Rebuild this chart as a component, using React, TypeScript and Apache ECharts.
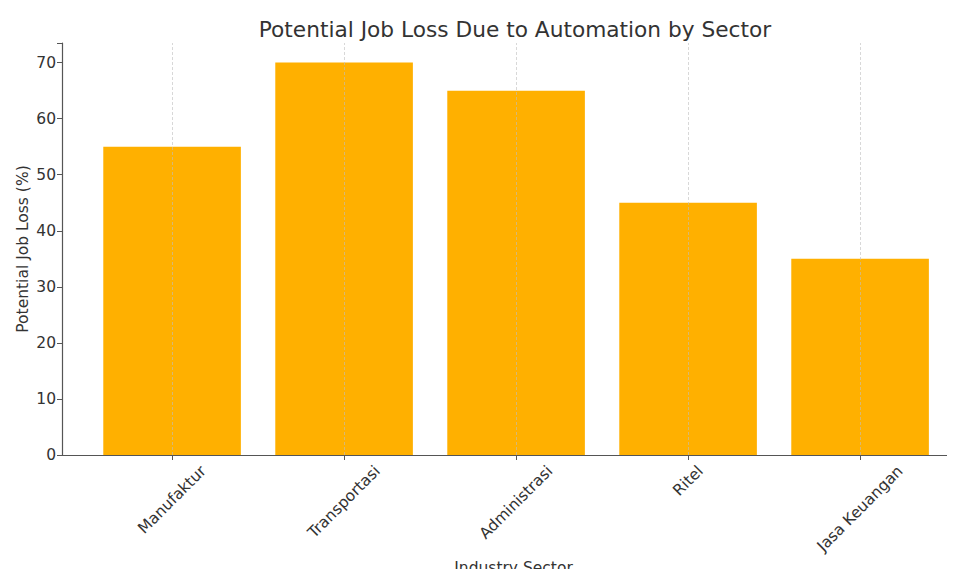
import React, { useEffect, useRef } from "react";
import * as echarts from "echarts";

const categories = ["Manufaktur", "Transportasi", "Administrasi", "Ritel", "Jasa Keuangan"];
const jobLoss = [55, 70, 65, 45, 35];
const yTicks = [0, 10, 20, 30, 40, 50, 60, 70];

const titleText = "Potential Job Loss Due to Automation by Sector";
const xName = "Industry Sector";
const yName = "Potential Job Loss (%)";

const FONT = '"DejaVu Sans", "Liberation Sans", sans-serif';
const TICK_FS = 15.5;

function measure(text: string, size: number): number {
  const c = document.createElement("canvas").getContext("2d");
  if (!c) return text.length * size * 0.6;
  c.font = `${size}px "DejaVu Sans"`;
  return c.measureText(text).width;
}

export default function App() {
  const ref = useRef<HTMLDivElement>(null);
  useEffect(() => {
    if (!ref.current) return;
    const chart = echarts.init(ref.current, undefined, { renderer: "svg" });
    const lineH = TICK_FS * 1.164;
    const rich: Record<string, any> = {};
    categories.forEach((c, i) => {
      const p = (measure(c, TICK_FS) + lineH) / 2;
      rich["c" + i] = {
        fontFamily: FONT,
        fontSize: TICK_FS,
        color: "#333333",
        padding: [p, p, 0, 0],
      };
    });
    const top = 43;
    const bottom = 122;
    chart.setOption({
      animation: false,
      backgroundColor: "#ffffff",
      graphic: [
        {
          type: "text",
          x: 515,
          y: 29.5,
          style: {
            text: titleText,
            align: "center",
            verticalAlign: "middle",
            fontFamily: FONT,
            fontSize: 21.7,
            fill: "#333333",
          },
        },
      ],
      grid: [
        { left: 62, right: -10, top, bottom, outerBoundsMode: "none" },
        { left: 86.08, width: 860, top, bottom, outerBoundsMode: "none" },
      ],
      xAxis: [
        {
          type: "value",
          gridIndex: 0,
          min: 0,
          max: 1,
          name: xName,
          nameLocation: "middle",
          nameGap: 105,
          nameMoveOverlap: false,
          nameTextStyle: {
            fontFamily: FONT,
            fontSize: TICK_FS,
            color: "#333333",
          },
          axisLine: { show: true, lineStyle: { color: "#555555", width: 1.2 } },
          axisTick: { show: false },
          axisLabel: { show: false },
          splitLine: { show: false },
        },
        {
          type: "category",
          gridIndex: 1,
          data: categories,
          axisLine: { show: false },
          axisTick: {
            show: true,
            alignWithLabel: true,
            length: 5,
            lineStyle: { color: "#555555", width: 1 },
          },
          axisLabel: {
            interval: 0,
            hideOverlap: false,
            rotate: 45,
            align: "center",
            verticalAlign: "middle",
            margin: 7,
            fontFamily: FONT,
            fontSize: TICK_FS,
            color: "#333333",
            formatter: (v: string, i: number) => `{c${i}|${v}}`,
            rich,
          },
          splitLine: { show: false },
        },
      ],
      yAxis: [
        {
          type: "value",
          gridIndex: 0,
          min: 0,
          max: 73.5,
          interval: 10,
          name: yName,
          nameLocation: "middle",
          nameGap: 31,
          nameMoveOverlap: false,
          nameTextStyle: { fontFamily: FONT, fontSize: TICK_FS, color: "#333333" },
          axisLine: { show: true, lineStyle: { color: "#555555", width: 1.2 } },
          axisTick: { show: true, length: 5, lineStyle: { color: "#555555" } },
          axisLabel: {
            margin: 6,
            fontFamily: FONT,
            fontSize: TICK_FS,
            color: "#333333",
            customValues: yTicks,
          },
          splitLine: { show: false },
        },
        {
          type: "value",
          gridIndex: 1,
          min: 0,
          max: 73.5,
          show: false,
        },
      ],
      series: [
        {
          type: "bar",
          xAxisIndex: 1,
          yAxisIndex: 1,
          data: jobLoss,
          barWidth: "80%",
          itemStyle: { color: "#FFB000" },
          markLine: {
            silent: true,
            symbol: "none",
            label: { show: false },
            lineStyle: { type: [3, 2], color: "rgba(190,190,190,0.6)", width: 1 },
            data: categories.map((c) => ({ xAxis: c })),
          },
        },
      ],
    });
    return () => chart.dispose();
  }, []);
  return <div ref={ref} style={{ width: 955, height: 577, margin: -8 }} />;
}
